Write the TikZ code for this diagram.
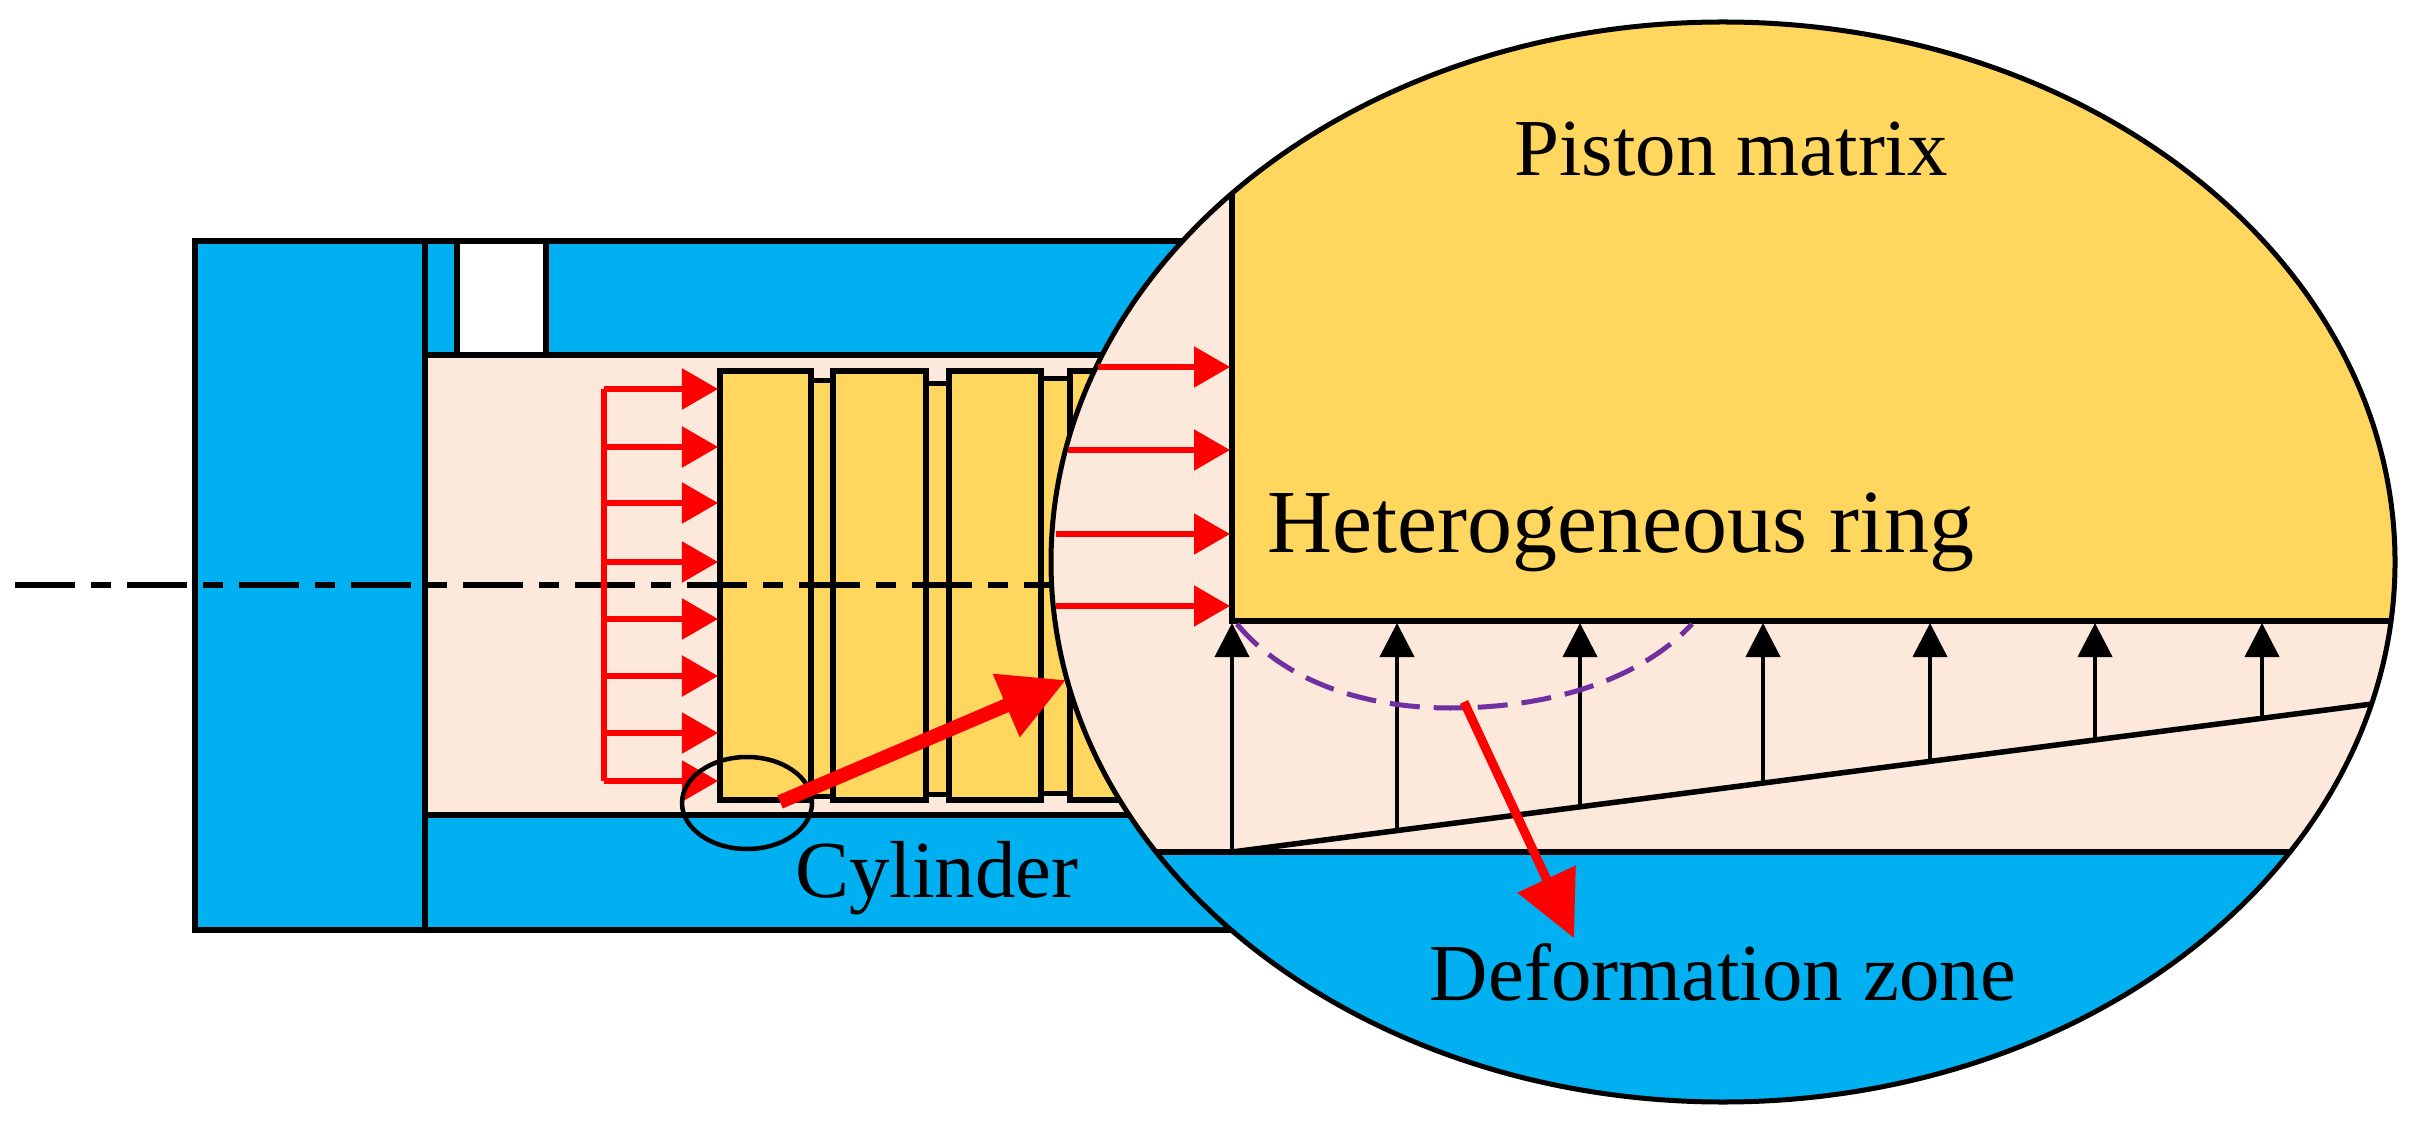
\documentclass[tikz,border=0pt]{standalone}
\usepackage{fontspec}
\setmainfont{Liberation Serif}
\usetikzlibrary{arrows.meta}
\definecolor{cblue}{HTML}{00B0F0}
\definecolor{cyel}{HTML}{FFD75F}
\definecolor{cpeach}{HTML}{FDE9DC}
\definecolor{cpurple}{HTML}{7030A0}
\definecolor{cred}{HTML}{FF0000}
\tikzset{
 part/.style={draw=black,line width=0.055cm},
 ringbox/.style={part,fill=cyel},
 groove/.style={draw=black,line width=0.05cm,fill=cyel},
 redarrow/.style={draw=cred,line width=0.055cm,-{Triangle[length=0.36cm,width=0.40cm]}},
 bigarrow/.style={draw=cred,line width=0.14cm,-{Triangle[length=0.65cm,width=0.65cm]}},
 blackarrow/.style={draw=black,line width=0.04cm,-{Triangle[length=0.34cm,width=0.34cm]}},
 label/.style={inner sep=0pt,font=\fontsize{23pt}{28pt}\selectfont,anchor=base},
 biglabel/.style={label,font=\fontsize{25.6pt}{30pt}\selectfont},
}
\begin{document}
\begin{tikzpicture}[x=0.01cm,y=-0.01cm]
\useasboundingbox (0,0) rectangle (2413,1125);
% main body
\path[fill=white] (0,0) rectangle (2413,1125);
\draw[part,fill=cblue] (195,241) rectangle (1300,930);
\draw[part,fill=cpeach] (425,355) rectangle (1300,815);
\draw[part] (425,241) -- (425,930);
\draw[part,fill=white] (457,241) rectangle (546,355);
% rings
\draw[groove] (811,381) rectangle (833,796);
\draw[groove] (926,384) rectangle (949,794);
\draw[groove] (1041,379) rectangle (1070,793);
\draw[ringbox] (720,371) rectangle (811,800);
\draw[ringbox] (833,371) rectangle (926,800);
\draw[ringbox] (949,371) rectangle (1041,800);
\draw[ringbox] (1070,371) rectangle (1160,800);
% axis
\draw[black,line width=0.05cm,dash pattern=on 0.6cm off 0.16cm on 0.2cm off 0.16cm] (15,585) -- (1060,585);
% red pressure arrows
\draw[draw=cred,line width=0.055cm] (604,389) -- (604,781);
\foreach \yy in {389,447,503,562,619,676,733,781}
  \draw[redarrow] (604,\yy) -- (718,\yy);
% small circle
\draw[black,line width=0.045cm] (747,803) ellipse [x radius=65,y radius=46];
\coordinate (a1s) at (780,802);
\coordinate (a1e) at (1066,680);
\draw[bigarrow] (a1s) -- (a1e);
\node[label] (cyl) at (937,897) {Cylinder};
% magnified ellipse
\begin{scope}
\clip (1723,562) ellipse [x radius=672,y radius=540];
\fill[cpeach] (1000,0) rectangle (2413,1125);
\fill[cyel] (1232,0) rectangle (2413,621);
\fill[cblue] (1000,852) rectangle (2413,1125);
\draw[part] (1232,0) -- (1232,621) -- (2413,621);
\draw[part] (1000,852) -- (2413,852);
\coordinate (w0) at (1232,852);
\coordinate (w1) at (2372,704);
\draw[part] (w0) -- (w1);
\end{scope}
\draw[black,line width=0.05cm] (1723,562) ellipse [x radius=672,y radius=540];
% red arrows in ellipse
\draw[redarrow] (1098,367) -- (1230,367);
\draw[redarrow] (1068,450) -- (1230,450);
\draw[redarrow] (1056,534) -- (1230,534);
\draw[redarrow] (1056,606) -- (1230,606);
% black arrows
\foreach \xx/\yy in {1232/852,1397/831,1580/807,1763/784,1930/762,2095/740,2262/718}
  \draw[blackarrow] (\xx,\yy) -- (\xx,623);
% purple arc
\draw[cpurple,line width=0.05cm,dash pattern=on 0.3cm off 0.14cm] (1237,624) .. controls (1285,682) and (1365,708) .. (1450,708) .. controls (1550,708) and (1640,680) .. (1692,624);
% red callout
\coordinate (a2s) at (1464,702);
\coordinate (a2e) at (1574,938);
\draw[draw=cred,line width=0.09cm,-{Triangle[length=0.65cm,width=0.62cm]}] (a2s) -- (a2e);
% labels
\node[label] (pm) at (1731,176) {Piston matrix};
\node[biglabel] (hr) at (1621,553) {Heterogeneous ring};
\node[label] (dz) at (1723,1000) {Deformation zone};
\end{tikzpicture}
\end{document}
